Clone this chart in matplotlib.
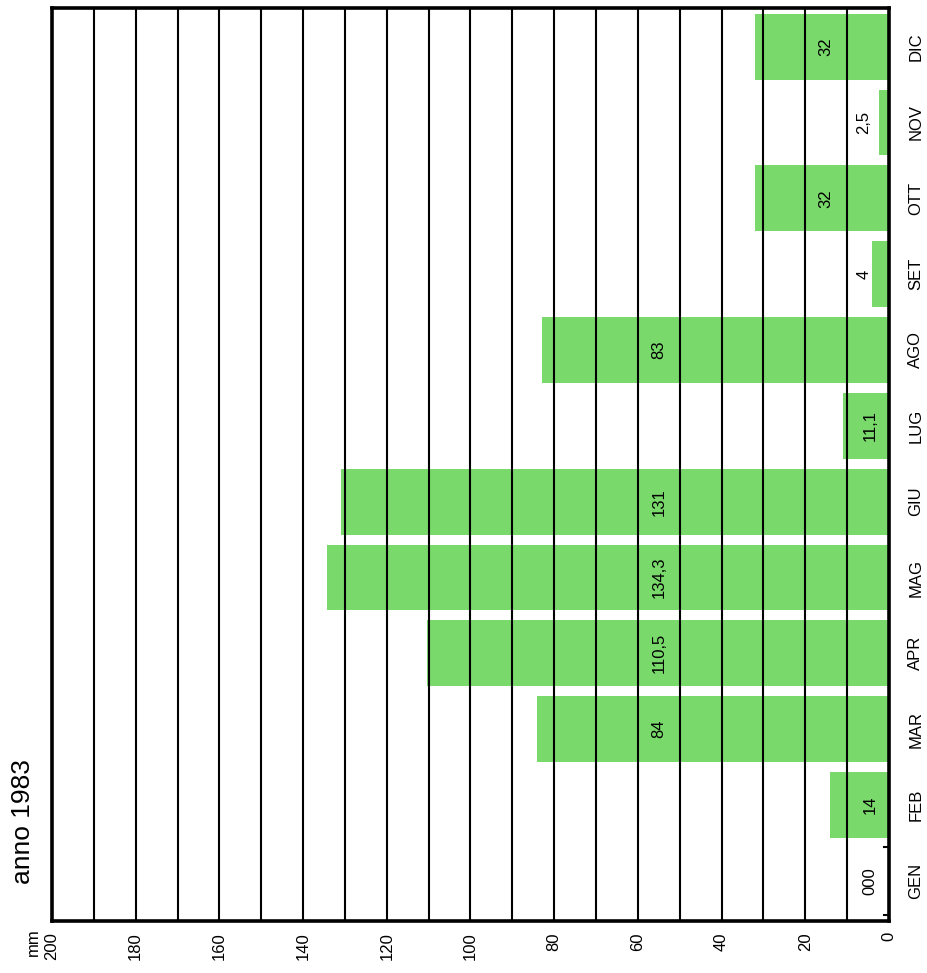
import matplotlib.pyplot as plt

# Dataset - rainfall per month, 1983 (mm)
months = ['GEN', 'FEB', 'MAR', 'APR', 'MAG', 'GIU',
          'LUG', 'AGO', 'SET', 'OTT', 'NOV', 'DIC']
rain = [0, 14, 84, 110.5, 134.3, 131, 11.1, 83, 4, 32, 2.5, 32]
rain_labels = ['000', '14', '84', '110,5', '134,3', '131',
               '11,1', '83', '4', '32', '2,5', '32']
ticks = [0, 20, 40, 60, 80, 100, 120, 140, 160, 180, 200]

plt.rcParams['font.family'] = ['Liberation Sans Narrow', 'Liberation Sans', 'DejaVu Sans']

fig = plt.figure(figsize=(9.28, 9.73), dpi=100)
ax = fig.add_axes([0.056, 0.0534, 0.902, 0.9384])

ypos = list(range(len(months)))
ax.barh(ypos, rain, height=0.87, color='#79d96b', zorder=1)

# vertical grid every 10 mm
for g in range(10, 200, 10):
    ax.axvline(g, color='black', lw=1.5, zorder=2)

# value labels inside / beside the bars
for i, (v, lab) in enumerate(zip(rain, rain_labels)):
    if v > 50:
        xl = 55
    elif v > 20:
        xl = 15
    elif v > 8 or v == 0:
        xl = 4.5
    else:
        xl = 6
    ax.text(xl, i, lab, rotation=90, ha='center', va='center',
            fontsize=12, zorder=3)

# small marks around GEN
for yy in [-0.45, 0.45]:
    ax.plot([0, 1.2], [yy, yy], color='black', lw=1.5, zorder=3)

ax.set_xlim(200, 0)
ax.set_ylim(-0.53, 11.51)

ax.set_xticks(ticks)
ax.set_xticklabels([str(t) for t in ticks], rotation=90, fontsize=12)
ax.set_yticks(ypos)
ax.set_yticklabels(months, rotation=90, fontsize=12, va='center')
ax.tick_params(axis='x', length=0, pad=8)
ax.tick_params(axis='y', length=0, pad=14, left=False, labelleft=False,
               right=False, labelright=True)

for s in ax.spines.values():
    s.set_linewidth(2.6)
    s.set_color('black')

fig.text(33 / 928, 1 - 942 / 973, 'mm', rotation=90, ha='center',
         va='center', fontsize=12)
fig.text(23 / 928, 1 - 822 / 973, 'anno 1983', rotation=90, ha='center',
         va='center', fontsize=19, family=['Liberation Sans', 'DejaVu Sans'])

plt.savefig('out.png', dpi=100)
